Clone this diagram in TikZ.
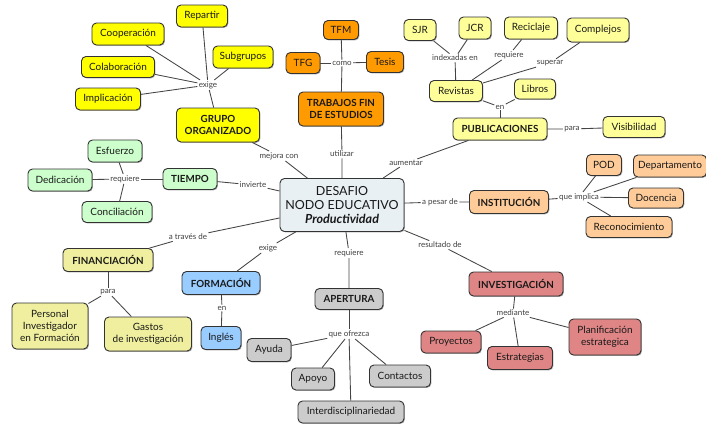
\documentclass[tikz,border=0pt]{standalone}
\usepackage{fontspec}
\setmainfont{Lato}
\usetikzlibrary{shadows}

\definecolor{cYel}{HTML}{FFFF00}
\definecolor{cOra}{HTML}{FF9A00}
\definecolor{cLY}{HTML}{FFFF99}
\definecolor{cGrn}{HTML}{CCFFCC}
\definecolor{cPch}{HTML}{FFCC99}
\definecolor{cKhk}{HTML}{EFEF9F}
\definecolor{cBlu}{HTML}{99CCFF}
\definecolor{cGry}{HTML}{CCCCCC}
\definecolor{cRed}{HTML}{DF8585}
\definecolor{cCen}{HTML}{E8F0F4}
\definecolor{bordercol}{HTML}{333333}
\definecolor{linecol}{HTML}{444444}
\definecolor{labelcol}{HTML}{404040}

\tikzset{
  concept/.style={draw=bordercol, rounded corners=4.5pt, line width=0.9pt,
    align=center, inner sep=1.5pt, text=black!90,
    font=\fontsize{10}{12}\selectfont,
    drop shadow={shadow xshift=0.9pt, shadow yshift=-0.9pt, fill=black, opacity=0.35}},
  headbox/.style={concept, font=\bfseries\fontsize{9.8}{12}\selectfont},
  lbl/.style={font=\fontsize{8}{9.5}\selectfont, text=labelcol, inner sep=1.2pt},
  link/.style={draw=linecol, line width=0.85pt}
}

\begin{document}
\begin{tikzpicture}[x=1pt,y=-1pt]
\useasboundingbox (0,0) rectangle (706,423);
\fill[white] (0,0) rectangle (706,423);

% central concept
\node[concept, fill=cCen, minimum width=124, minimum height=53,
      font=\fontsize{12.5}{14}\selectfont] (core) at (342,205)
  {DESAFIO\\NODO EDUCATIVO\\{\fontsize{12.5}{14}\selectfont\bfseries\itshape Productividad}};

% grupo organizado
\node[headbox, fill=cYel, minimum width=83, minimum height=34] (grupo) at (218,125) {GRUPO\\ORGANIZADO};
\node[concept, fill=cYel, minimum width=51, minimum height=22] (repartir) at (202,16) {Repartir};
\node[concept, fill=cYel, minimum width=72, minimum height=22] (coop) at (128,34) {Cooperación};
\node[concept, fill=cYel, minimum width=73, minimum height=21] (colab) at (118,67) {Colaboración};
\node[concept, fill=cYel, minimum width=65, minimum height=22] (impl) at (108,99) {Implicación};
\node[concept, fill=cYel, minimum width=60, minimum height=22] (subg) at (243,57) {Subgrupos};
\node[lbl] (lexige) at (208,85) {exige};
\node[lbl] (lmejora) at (279,156) {mejora con};

% trabajos fin de estudios
\node[headbox, fill=cOra, minimum width=85, minimum height=34] (tfe) at (341,109) {TRABAJOS FIN\\DE ESTUDIOS};
\node[concept, fill=cOra, minimum width=35, minimum height=19] (tfm) at (341,30) {TFM};
\node[concept, fill=cOra, minimum width=34, minimum height=21] (tfg) at (303,63) {TFG};
\node[concept, fill=cOra, minimum width=37, minimum height=21] (tesis) at (385,62) {Tesis};
\node[lbl] (lcomo) at (342,63) {como};
\node[lbl] (lutil) at (342,154) {utilizar};

% publicaciones
\node[headbox, fill=cLY, minimum width=94, minimum height=22] (publ) at (500,129) {PUBLICACIONES};
\node[concept, fill=cLY, minimum width=53, minimum height=21] (revistas) at (456,91) {Revistas};
\node[concept, fill=cLY, minimum width=41, minimum height=20] (libros) at (535,89) {Libros};
\node[concept, fill=cLY, minimum width=32, minimum height=21] (sjr) at (420,30) {SJR};
\node[concept, fill=cLY, minimum width=32, minimum height=22] (jcr) at (475,28) {JCR};
\node[concept, fill=cLY, minimum width=53, minimum height=22] (recic) at (531,28) {Reciclaje};
\node[concept, fill=cLY, minimum width=62, minimum height=24] (compl) at (598,30) {Complejos};
\node[concept, fill=cLY, minimum width=62, minimum height=21] (visib) at (634,127) {Visibilidad};
\node[lbl] (lindex) at (455,58) {indexadas en};
\node[lbl] (lreqrev) at (509,55) {requiere};
\node[lbl] (lsuper) at (550,63) {superar};
\node[lbl] (lenpub) at (500,107) {en};
\node[lbl] (lpara) at (572,129) {para};
\node[lbl] (laument) at (406,163) {aumentar};

% tiempo
\node[headbox, fill=cGrn, minimum width=54, minimum height=21] (tiempo) at (190,179) {TIEMPO};
\node[concept, fill=cGrn, minimum width=54, minimum height=22] (esfu) at (115,151) {Esfuerzo};
\node[concept, fill=cGrn, minimum width=64, minimum height=22] (dedic) at (60,180) {Dedicación};
\node[concept, fill=cGrn, minimum width=70, minimum height=21] (conci) at (117,212) {Conciliación};
\node[lbl] (lreqtie) at (125,179) {requiere};
\node[lbl] (linvi) at (253,185) {invierte};

% institucion
\node[headbox, fill=cPch, minimum width=79, minimum height=23] (inst) at (509,202) {INSTITUCIÓN};
\node[concept, fill=cPch, minimum width=35, minimum height=21] (pod) at (604,165) {POD};
\node[concept, fill=cPch, minimum width=73, minimum height=22] (depto) at (670,166) {Departamento};
\node[concept, fill=cPch, minimum width=55, minimum height=20] (docen) at (656,198) {Docencia};
\node[concept, fill=cPch, minimum width=86, minimum height=21] (recon) at (629,227) {Reconocimiento};
\node[lbl] (limpl) at (579,197) {que implica};
\node[lbl] (lpesar) at (440,202) {a pesar de};

% financiacion
\node[headbox, fill=cKhk, minimum width=90, minimum height=23] (finan) at (108,260) {FINANCIACIÓN};
\node[concept, fill=cKhk, minimum width=76, minimum height=46] (pif) at (50,326) {Personal\\Investigador\\en Formación};
\node[concept, fill=cKhk, minimum width=87, minimum height=34] (gastos) at (148,334) {Gastos\\de investigación};
\node[lbl] (lparafin) at (108,292) {para};
\node[lbl] (ltraves) at (188,237) {a través de};

% formacion
\node[headbox, fill=cBlu, minimum width=78, minimum height=23] (form) at (221,283) {FORMACIÓN};
\node[concept, fill=cBlu, minimum width=40, minimum height=23] (ingles) at (221,338) {Inglés};
\node[lbl] (lenform) at (222,308) {en};
\node[lbl] (lexigef) at (268,248) {exige};

% apertura
\node[headbox, fill=cGry, minimum width=68, minimum height=21] (apert) at (349,299) {APERTURA};
\node[concept, fill=cGry, minimum width=44, minimum height=23] (ayuda) at (269,350) {Ayuda};
\node[concept, fill=cGry, minimum width=43, minimum height=22] (apoyo) at (313,379) {Apoyo};
\node[concept, fill=cGry, minimum width=61, minimum height=22] (contac) at (400,376) {Contactos};
\node[concept, fill=cGry, minimum width=106, minimum height=22] (interd) at (351,412) {Interdisciplinariedad};
\node[lbl] (lofrez) at (349,334) {que ofrezca};
\node[lbl] (lreqap) at (349,253) {requiere};

% investigacion
\node[headbox, fill=cRed, minimum width=94, minimum height=24] (inves) at (516,284) {INVESTIGACIÓN};
\node[concept, fill=cRed, minimum width=60, minimum height=22] (proy) at (451,342) {Proyectos};
\node[concept, fill=cRed, minimum width=65, minimum height=23] (estr) at (520,358) {Estrategias};
\node[concept, fill=cRed, minimum width=72, minimum height=36] (plan) at (605,337) {Planificación\\estrategica};
\node[lbl] (lmedi) at (513,313) {mediante};
\node[lbl] (lresul) at (440,245) {resultado de};

% connectors, each passing through its linking phrase
\draw[link] (core) -- (lmejora) -- (grupo);
\draw[link] (grupo) -- (lexige);
\draw[link] (lexige) -- (repartir);
\draw[link] (lexige) -- (coop);
\draw[link] (lexige) -- (colab);
\draw[link] (lexige) -- (impl);
\draw[link] (lexige) -- (subg);

\draw[link] (core) -- (lutil) -- (tfe);
\draw[link] (tfe) -- (lcomo) -- (tfm);
\draw[link] (lcomo) -- (tfg);
\draw[link] (lcomo) -- (tesis);

\draw[link] (core) -- (laument) -- (publ);
\draw[link] (publ) -- (lenpub);
\draw[link] (lenpub) -- (revistas);
\draw[link] (lenpub) -- (libros);
\draw[link] (publ) -- (lpara) -- (visib);
\draw[link] (revistas) -- (lindex);
\draw[link] (lindex) -- (sjr);
\draw[link] (lindex) -- (jcr);
\draw[link] (revistas) -- (lreqrev) -- (recic);
\draw[link] (revistas) -- (lsuper) -- (compl);

\draw[link] (core) -- (linvi) -- (tiempo);
\draw[link] (tiempo) -- (lreqtie);
\draw[link] (lreqtie) -- (esfu);
\draw[link] (lreqtie) -- (dedic);
\draw[link] (lreqtie) -- (conci);

\draw[link] (core) -- (lpesar) -- (inst);
\draw[link] (inst) -- (limpl);
\draw[link] (limpl) -- (pod);
\draw[link] (limpl) -- (depto);
\draw[link] (limpl) -- (docen);
\draw[link] (limpl) -- (recon);

\draw[link] (core) -- (ltraves) -- (finan);
\draw[link] (finan) -- (lparafin);
\draw[link] (lparafin) -- (pif);
\draw[link] (lparafin) -- (gastos);

\draw[link] (core) -- (lexigef) -- (form);
\draw[link] (form) -- (lenform) -- (ingles);

\draw[link] (core) -- (lreqap) -- (apert);
\draw[link] (apert) -- (lofrez);
\draw[link] (lofrez) -- (ayuda);
\draw[link] (lofrez) -- (apoyo);
\draw[link] (lofrez) -- (contac);
\draw[link] (lofrez) -- (interd);

\draw[link] (core) -- (lresul) -- (inves);
\draw[link] (inves) -- (lmedi);
\draw[link] (lmedi) -- (proy);
\draw[link] (lmedi) -- (estr);
\draw[link] (lmedi) -- (plan);
\end{tikzpicture}
\end{document}
